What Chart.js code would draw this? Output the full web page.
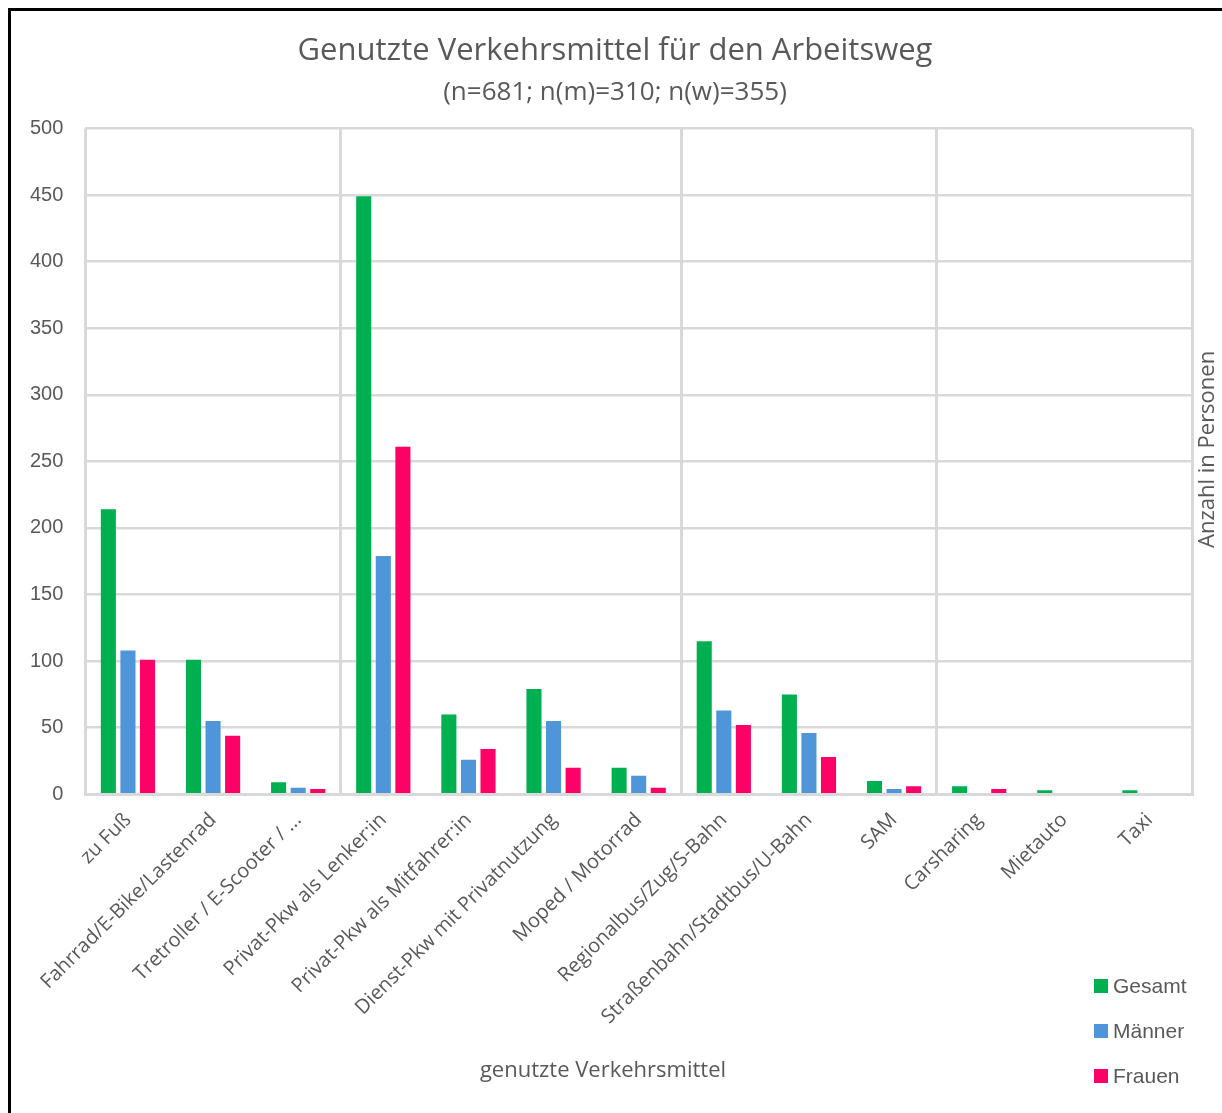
<!DOCTYPE html>
<html lang="de">
<head>
<meta charset="utf-8">
<title>Genutzte Verkehrsmittel für den Arbeitsweg</title>
<script src="https://cdn.jsdelivr.net/npm/chart.js@4.4.1/dist/chart.umd.min.js"></script>
<style>
  html, body { margin: 0; padding: 0; background: #fff; }
  #wrap { position: relative; width: 1222px; height: 1113px; }
  #frame {
    position: absolute; left: 8px; top: 8px; right: 0; bottom: 0;
    border-top: 3px solid #000; border-left: 3px solid #000;
    pointer-events: none;
  }
</style>
</head>
<body>
<div id="wrap">
  <canvas id="chart" width="1222" height="1113"></canvas>
  <div id="frame"></div>
</div>
<script>
// categories and counts per group
const categories = [
  'zu Fuß',
  'Fahrrad/E-Bike/Lastenrad',
  'Tretroller / E-Scooter / ...',
  'Privat-Pkw als Lenker:in',
  'Privat-Pkw als Mitfahrer:in',
  'Dienst-Pkw mit Privatnutzung',
  'Moped / Motorrad',
  'Regionalbus/Zug/S-Bahn',
  'Straßenbahn/Stadtbus/U-Bahn',
  'SAM',
  'Carsharing',
  'Mietauto',
  'Taxi'
];
const gesamt  = [214, 101, 9, 449, 60, 79, 20, 115, 75, 10, 6, 3, 3];
const maenner = [108, 55, 5, 179, 26, 55, 14, 63, 46, 4, 1, 1, 0];
const frauen  = [101, 44, 4, 261, 34, 20, 5, 52, 28, 6, 4, 0, 1];

const seriesNames = ['Gesamt', 'Männer', 'Frauen'];
const seriesColors = ['#00B050', '#4E95D9', '#FF0066'];

// vertical separators sit left of these category indices (plus the closing one)
const groupStarts = [0, 3, 7, 10];

const gridColor = '#d9d9d9';
const textColor = '#595959';

// axis titles: rotated one on the right, x title below the labels
const axisTitles = {
  id: 'axisTitles',
  afterDraw(chart, args, opts) {
    const { ctx, chartArea } = chart;
    ctx.save();
    ctx.fillStyle = textColor;
    ctx.textAlign = 'center';
    ctx.textBaseline = 'middle';
    ctx.font = opts.font;
    ctx.fillText(opts.xText, opts.xPos, opts.xLine);

    ctx.translate(chartArea.right + opts.rightOffset, (chartArea.top + chartArea.bottom) / 2 + opts.rightShift);
    ctx.rotate(-Math.PI / 2);
    ctx.fillText(opts.yText, 0, 0);
    ctx.restore();
  }
};

// stacked legend in the bottom right corner
const cornerLegend = {
  id: 'cornerLegend',
  afterDraw(chart, args, opts) {
    const { ctx } = chart;
    ctx.save();
    ctx.font = opts.font;
    ctx.textBaseline = 'middle';
    chart.data.datasets.forEach((ds, i) => {
      const y = opts.y + i * opts.step;
      ctx.fillStyle = ds.backgroundColor;
      ctx.fillRect(opts.x, y - 7, 14, 14);
      ctx.fillStyle = textColor;
      ctx.fillText(ds.label, opts.x + 19, y + 1);
    });
    ctx.restore();
  }
};

new Chart(document.getElementById('chart'), {
  type: 'bar',
  data: {
    labels: categories,
    datasets: [gesamt, maenner, frauen].map((values, i) => ({
      label: seriesNames[i],
      data: values,
      backgroundColor: seriesColors[i],
      categoryPercentage: 0.69,
      barPercentage: 0.77
    }))
  },
  options: {
    responsive: false,
    animation: false,
    layout: { padding: { left: 8, right: 0, top: 0, bottom: 70 } },
    plugins: {
      legend: { display: false },
      tooltip: { enabled: false },
      title: {
        display: true,
        text: 'Genutzte Verkehrsmittel für den Arbeitsweg',
        color: textColor,
        font: { family: 'Open Sans', size: 31, weight: 'normal' },
        padding: { top: 33, bottom: 7 }
      },
      subtitle: {
        display: true,
        text: '(n=681; n(m)=310; n(w)=355)',
        color: textColor,
        font: { family: 'Open Sans', size: 26, weight: 'normal' },
        padding: { top: 0, bottom: 20 }
      },
      axisTitles: {
        font: '22px "Open Sans"',
        xText: 'genutzte Verkehrsmittel',
        xPos: 603,
        xLine: 1071,
        yText: 'Anzahl in Personen',
        rightOffset: 16,
        rightShift: -12
      },
      cornerLegend: {
        x: 1094, y: 986, step: 45,
        font: '21px "Liberation Sans", Arial, sans-serif'
      }
    },
    scales: {
      x: {
        grid: {
          offset: true,
          drawTicks: false,
          lineWidth: 3,
          color: ctx => (ctx.index === undefined || groupStarts.includes(ctx.index)) ? gridColor : 'rgba(0,0,0,0)'
        },
        border: { display: true, color: gridColor, width: 3 },
        ticks: {
          color: textColor,
          font: { family: 'Open Sans', size: 20 },
          minRotation: 45,
          maxRotation: 45,
          autoSkip: false,
          padding: 14
        }
      },
      y: {
        min: 0,
        max: 500,
        ticks: {
          stepSize: 50,
          color: textColor,
          font: { family: 'Liberation Sans', size: 20 },
          padding: 22
        },
        grid: { color: gridColor, lineWidth: 2.5, drawTicks: false },
        border: { display: false }
      },
      // empty strip on the right that holds the rotated axis title
      yRight: {
        position: 'right',
        min: 0,
        max: 500,
        grid: { display: false, drawTicks: false },
        border: { display: false },
        ticks: { display: false },
        afterFit: scale => { scale.width = 30; }
      }
    }
  },
  plugins: [axisTitles, cornerLegend]
});
</script>
</body>
</html>
